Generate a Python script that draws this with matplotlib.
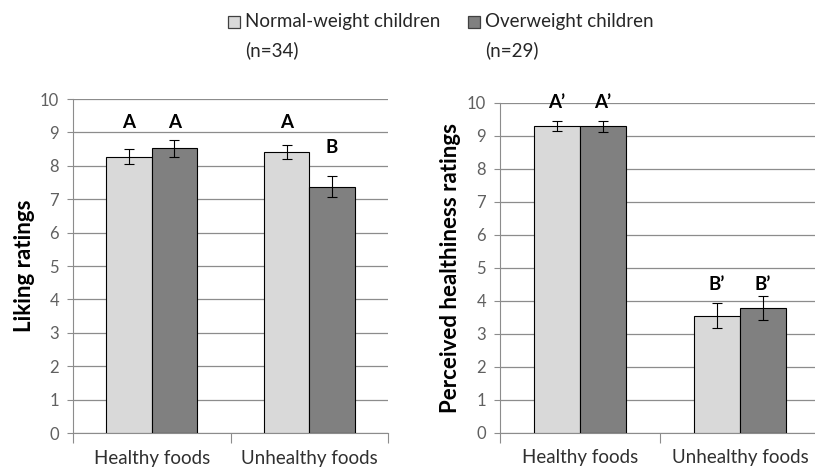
import matplotlib
matplotlib.use("Agg")
import matplotlib.pyplot as plt
from matplotlib.patches import Rectangle
import numpy as np

plt.rcParams['font.family'] = ['Lato', 'DejaVu Sans']

categories = ["Healthy foods", "Unhealthy foods"]
groups = ["Normal-weight children", "Overweight children"]
group_n = ["(n=34)", "(n=29)"]

liking_normal = [8.27, 8.40]
liking_normal_err = [0.22, 0.21]
liking_over = [8.52, 7.37]
liking_over_err = [0.25, 0.31]
liking_letters_normal = ["A", "A"]
liking_letters_over = ["A", "B"]

health_normal = [9.30, 3.55]
health_normal_err = [0.15, 0.39]
health_over = [9.28, 3.79]
health_over_err = [0.16, 0.36]
health_letters_normal = ["A\u2019", "B\u2019"]
health_letters_over = ["A\u2019", "B\u2019"]

c_light = "#d9d9d9"
c_dark = "#808080"
grid_c = "#8c8c8c"
tick_c = "#606060"

fig = plt.figure(figsize=(8.15, 4.73), dpi=100)
ax1 = fig.add_axes([73/815, 1-433/473, (388-73)/815, (433-99)/473])
ax2 = fig.add_axes([500/815, 1-432.7/473, (820-500)/815, (432.7-102.7)/473])


def draw(ax, vn, en, vo, eo, ln, lo, ylabel, label_x):
    x = np.arange(len(categories))
    w = 0.288
    ax.bar(x - w/2, vn, w, color=c_light, edgecolor="black", linewidth=0.8, zorder=3)
    ax.bar(x + w/2, vo, w, color=c_dark, edgecolor="black", linewidth=0.8, zorder=3)
    ax.errorbar(x - w/2, vn, yerr=en, fmt="none", ecolor="black", elinewidth=0.8, capsize=3.5, capthick=0.8, zorder=4)
    ax.errorbar(x + w/2, vo, yerr=eo, fmt="none", ecolor="black", elinewidth=0.8, capsize=3.5, capthick=0.8, zorder=4)
    for i in range(len(categories)):
        ax.text(x[i] - w/2, ln[i][1], ln[i][0], ha="center", va="center", fontsize=13.5, fontweight="bold", zorder=5)
        ax.text(x[i] + w/2, lo[i][1], lo[i][0], ha="center", va="center", fontsize=13.5, fontweight="bold", zorder=5)
    ax.set_xlim(-0.5, len(categories) - 0.5)
    ax.set_ylim(0, 10)
    ax.set_yticks(range(0, 11))
    ax.yaxis.grid(True, color=grid_c, linewidth=0.9, zorder=0)
    ax.set_axisbelow(True)
    for s in ["top", "right"]:
        ax.spines[s].set_visible(False)
    ax.spines["left"].set_color(grid_c)
    ax.spines["bottom"].set_color(grid_c)
    ax.tick_params(axis="y", colors=tick_c, labelsize=12, length=4, color=grid_c, pad=6)
    ax.set_xticks(np.arange(-0.5, len(categories)))
    ax.set_xticklabels([])
    ax.set_xticks(x, minor=True)
    ax.set_xticklabels(categories, minor=True)
    ax.tick_params(axis="x", which="major", length=7, color=grid_c)
    ax.tick_params(axis="x", which="minor", length=0, labelsize=13.5, labelcolor="#303030", pad=12)
    ax.set_ylabel(ylabel, fontsize=16, fontweight="bold")
    ax.yaxis.set_label_coords(label_x, 0.5)


draw(ax1, liking_normal, liking_normal_err, liking_over, liking_over_err,
     list(zip(liking_letters_normal, [9.3, 9.3])), list(zip(liking_letters_over, [9.3, 8.55])),
     "Liking ratings", -0.120)
draw(ax2, health_normal, health_normal_err, health_over, health_over_err,
     list(zip(health_letters_normal, [10.0, 4.5])), list(zip(health_letters_over, [10.0, 4.5])),
     "Perceived healthiness ratings", -0.123)

# legend (manual, marker aligned with first text line)
leg_colors = [c_light, c_dark]
leg_x = [228, 468]
for i in range(len(groups)):
    fig.patches.append(Rectangle((leg_x[i]/815, 1-28/473), 12/815, 12/473,
                                 transform=fig.transFigure, facecolor=leg_colors[i],
                                 edgecolor="#404040", linewidth=0.9))
    fig.text((leg_x[i]+17)/815, 1-22/473, groups[i], fontsize=13.5, color="#262626",
             ha="left", va="center")
    fig.text((leg_x[i]+17)/815, 1-50/473, group_n[i], fontsize=13.5, color="#262626",
             ha="left", va="center")

fig.savefig("out.png", dpi=100)
